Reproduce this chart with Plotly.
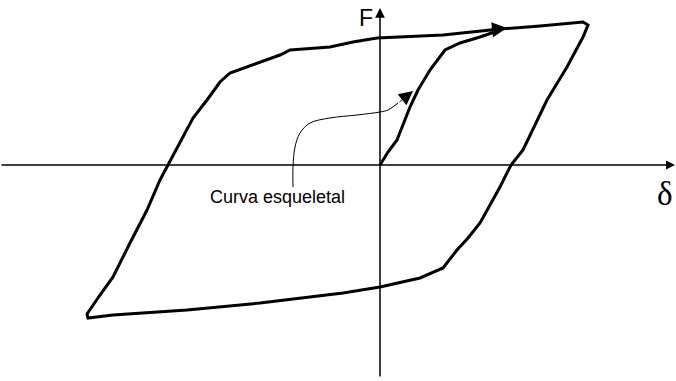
import plotly.graph_objects as go

# Skeleton (envelope) curve: displacement delta, force F (arbitrary units)
skel_d = [0, 8, 17, 24, 30, 38, 50, 65, 80, 100, 120]
skel_F = [0, 13, 25, 42, 58, 75, 95, 115, 122, 128, 135]

# Outer hysteresis loop
loop_d = [120, 160, 203, 208, 203, 187, 167, 143, 131, 120, 100, 88, 77, 63, 40, 0,
          -37, -120, -193, -267, -292, -293, -280, -267, -250, -233, -220, -212,
          -200, -187, -173, -160, -150, -127, -100, -90, -50, -27, -3, 63, 120]
loop_F = [136, 139, 143, 140, 128, 98, 65, 15, 0, -22, -58, -73, -85, -103, -113, -122,
          -128, -138, -145, -150, -153, -149, -130, -112, -78, -45, -15, 0,
          22, 47, 65, 83, 92, 100, 110, 115, 118, 123, 127, 130, 136]

# Leader line from label to skeleton curve
lead_d = [-87, -87, -85, -80, -70, -50, -23, 0, 8, 18]
lead_F = [-22, -2, 18, 32, 42, 47, 50, 53, 55, 62]

x_range = [-380, 296]
y_range = [-216, 165]

fig = go.Figure()
fig.add_trace(go.Scatter(x=loop_d, y=loop_F, mode="lines",
                         line=dict(color="black", width=3), hoverinfo="skip"))
fig.add_trace(go.Scatter(x=skel_d, y=skel_F, mode="lines",
                         line=dict(color="black", width=3), hoverinfo="skip"))
fig.add_trace(go.Scatter(x=lead_d, y=lead_F, mode="lines", line_shape="spline",
                         line=dict(color="black", width=1), hoverinfo="skip"))

ann = []
# axes with arrows
ann.append(dict(x=x_range[1] - 1, y=0, ax=x_range[0], ay=0, xref="x", yref="y",
                axref="x", ayref="y", showarrow=True, arrowhead=2, arrowsize=1.2,
                arrowwidth=1.5, arrowcolor="black", standoff=0, text=""))
ann.append(dict(x=0, y=y_range[1] - 8, ax=0, ay=y_range[0] + 3, xref="x", yref="y",
                axref="x", ayref="y", showarrow=True, arrowhead=2, arrowsize=1.3,
                arrowwidth=1.5, arrowcolor="black", standoff=0, text=""))
# direction arrow on top branch
ann.append(dict(x=127, y=137, ax=110, ay=135, xref="x", yref="y", axref="x", ayref="y",
                showarrow=True, arrowhead=2, arrowsize=1.0, arrowwidth=3,
                arrowcolor="black", standoff=0, text=""))
# arrow at end of leader
ann.append(dict(x=33, y=74, ax=lead_d[-1], ay=lead_F[-1], xref="x", yref="y",
                axref="x", ayref="y", showarrow=True, arrowhead=2, arrowsize=2.8,
                arrowwidth=1, arrowcolor="black", standoff=0, text=""))
# labels
ann.append(dict(x=-14.5, y=147, text="F", showarrow=False, xref="x", yref="y",
                font=dict(family="Liberation Sans", size=23, color="black")))
ann.append(dict(x=295, y=-29, text="δ", showarrow=False, xref="x", yref="y",
                xanchor="right",
                font=dict(family="Liberation Serif", size=33, color="black")))
ann.append(dict(x=-103, y=-32, text="Curva esqueletal", showarrow=False, xref="x", yref="y",
                font=dict(family="Liberation Sans", size=18, color="black")))

fig.update_layout(
    width=676, height=381,
    margin=dict(l=0, r=0, t=0, b=0),
    paper_bgcolor="white", plot_bgcolor="white",
    showlegend=False,
    xaxis=dict(range=x_range, visible=False, fixedrange=True),
    yaxis=dict(range=y_range, visible=False, fixedrange=True),
    annotations=ann,
)

fig.write_html("out.html", config={"displayModeBar": False},
               post_script="document.body.style.margin='0';document.body.style.overflow='hidden';")
